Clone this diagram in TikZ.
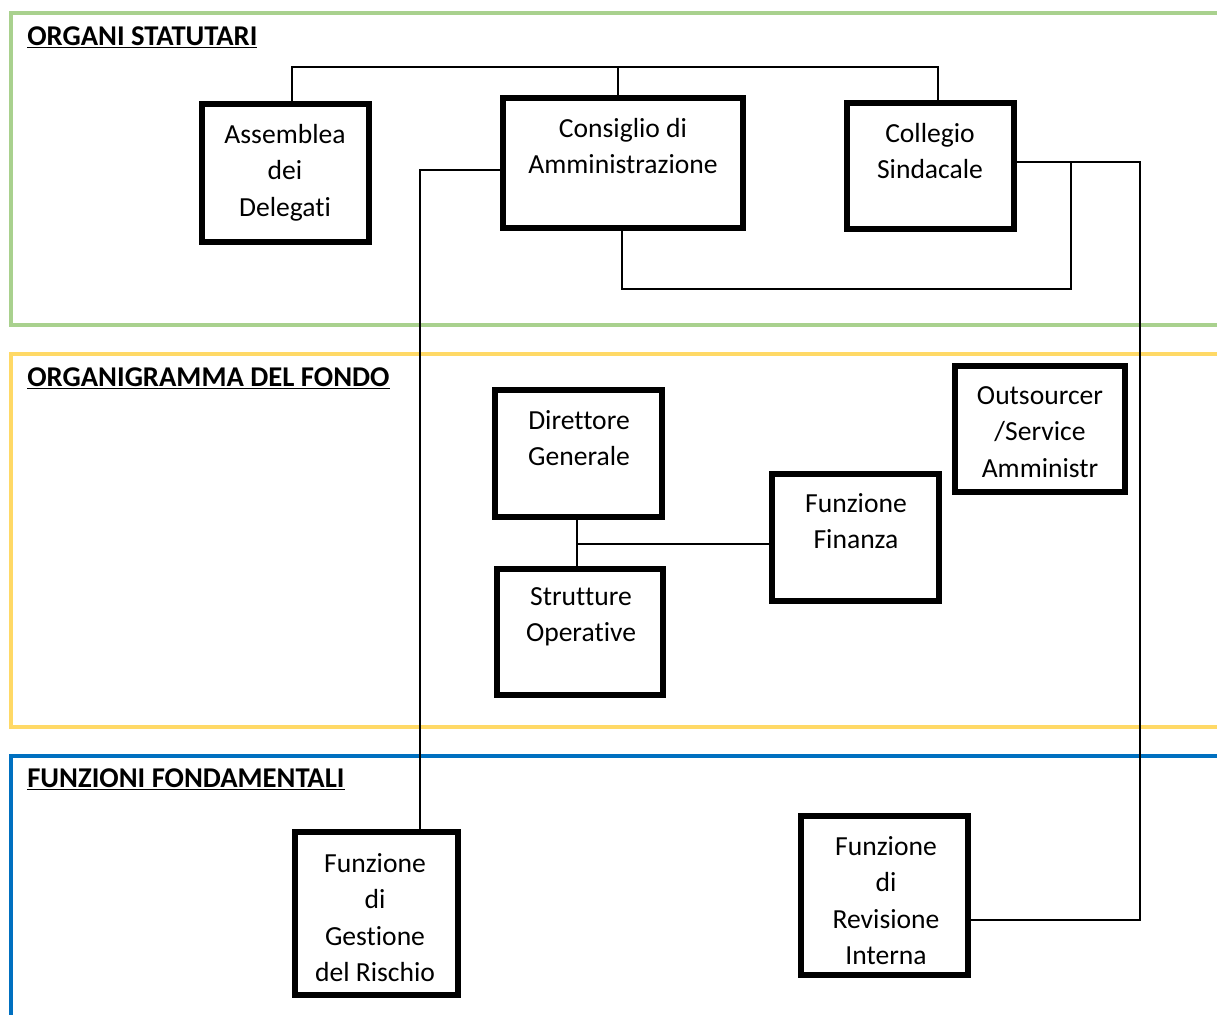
\documentclass[tikz,border=0pt]{standalone}
\usepackage{fontspec}
\setmainfont[Ligatures={NoCommon}]{Carlito}
\usetikzlibrary{fit}
\definecolor{frgreen}{HTML}{A9D18E}
\definecolor{fryellow}{HTML}{FFD966}
\definecolor{frblue}{HTML}{0070C0}
\begin{document}
\begin{tikzpicture}[x=0.02cm, y=-0.02cm,
  box/.style={draw=black, line width=3.4pt, inner sep=0pt},
  boxtext/.style={anchor=north, align=center, inner sep=0pt, font=\fontsize{15.7pt}{20.7pt}\selectfont},
  title/.style={anchor=base west, inner sep=0pt, font=\fontsize{16.3pt}{19pt}\selectfont\bfseries},
  frame/.style={line width=2.3pt},
  conn/.style={draw=black, line width=0.85pt}]
\useasboundingbox (0,0) rectangle (1217,1015);
\fill[white] (0,0) rectangle (1217,1015);

% section frames
\draw[frame, frgreen] (1217,13) -- (11,13) -- (11,325) -- (1217,325);
\draw[frame, fryellow] (1217,354) -- (11,354) -- (11,727) -- (1217,727);
\draw[frame, frblue] (1217,756) -- (11,756) -- (11,1015);

% titles
\node[title] (t1) at (27,45) {\underline{ORGANI STATUTARI}};
\node[title] (t2) at (27,386) {\underline{ORGANIGRAMMA DEL FONDO}};
\node[title] (t3) at (27,787) {\underline{FUNZIONI FONDAMENTALI}};

% boxes
\node[box, fit={(202,104) (369,242)}] (asm) {};
\node[boxtext] (asmt) at (285,124) {Assemblea\\dei\\Delegati};
\node[box, fit={(503,98) (743,228)}] (cda) {};
\node[boxtext] (cdat) at (623,118) {Consiglio di\\Amministrazione};
\node[box, fit={(847,103) (1014,229)}] (col) {};
\node[boxtext] (colt) at (930,123) {Collegio\\Sindacale};

\node[box, fit={(495,390) (662,517)}] (dg) {};
\node[boxtext] (dgt) at (579,410) {Direttore\\Generale};
\node[box, fit={(497,569) (663,695)}] (so) {};
\node[boxtext] (sot) at (581,587) {Strutture\\Operative};
\node[box, fit={(772,474) (939,601)}] (ff) {};
\node[boxtext] (fft) at (856,493) {Funzione\\Finanza};
\node[box, fit={(955,366) (1125,492)}] (out) {};
\node[boxtext] (outt) at (1040,386) {Outsourcer\\/Service\\Amministr};

\node[box, fit={(295,832) (458,995)}] (gr) {};
\node[boxtext] (grt) at (375,853) {Funzione\\di\\Gestione\\del Rischio};
\node[box, fit={(801,816) (968,975)}] (ri) {};
\node[boxtext] (rit) at (886,836) {Funzione\\di\\Revisione\\Interna};

% connector coordinates
\coordinate (busL) at (292,67);
\coordinate (busM) at (618,67);
\coordinate (busR) at (938,67);
\coordinate (rl) at (420,170);
\coordinate (cr) at (1140,162);
\coordinate (rr) at (1140,920);
\coordinate (lb) at (622,289);
\coordinate (lr) at (1071,289);
\coordinate (dx) at (577,544);

% connectors
\draw[conn] (asm.north -| busL) -- (busL) -- (busR) -- (col.north -| busR);
\draw[conn] (busM) -- (cda.north -| busM);
\draw[conn] (cda.west |- rl) -- (rl) -- (gr.north -| rl);
\draw[conn] (col.east |- cr) -- (cr) -- (rr) -- (ri.east |- rr);
\draw[conn] (cda.south -| lb) -- (lb) -- (lr) -- (lr |- cr);
\draw[conn] (dg.south -| dx) -- (so.north -| dx);
\draw[conn] (dx) -- (ff.west |- dx);
\end{tikzpicture}
\end{document}
